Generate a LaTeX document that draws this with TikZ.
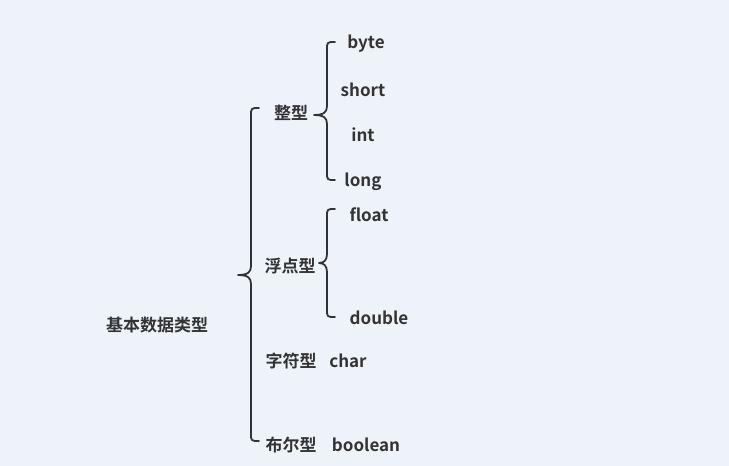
\documentclass[tikz,border=0pt]{standalone}
\usepackage{fontspec}
\setmainfont{Noto Sans CJK SC}[BoldFont=* Bold]
\definecolor{bgc}{RGB}{238,242,249}
\definecolor{ink}{RGB}{51,51,51}
\tikzset{
  lbl/.style={anchor=base, inner sep=0pt, text=ink, font=\fontsize{17}{19}\selectfont\bfseries},
  brc/.style={draw=ink, line width=1.8pt, line cap=round, line join=round}
}
\newcommand{\mybrace}[5]{% x, top, bottom, mid, tip
  \draw[brc] (#1+8,#2) .. controls (#1,#2) .. (#1,#2+8) -- (#1,#4-9)
    .. controls (#1,#4-3) and (#1-3,#4) .. (#5,#4)
    .. controls (#1-3,#4) and (#1,#4+3) .. (#1,#4+9) -- (#1,#3-8)
    .. controls (#1,#3) .. (#1+8,#3);}
\begin{document}
\begin{tikzpicture}[x=1pt,y=-1pt]
\fill[bgc] (0,0) rectangle (729,466);
\useasboundingbox (0,0) rectangle (729,466);
\node[lbl] (root) at (157,331) {基本数据类型};
\node[lbl] (zx) at (291,119) {整型};
\node[lbl] (fd) at (290,272) {浮点型};
\node[lbl] (zf) at (291,367) {字符型};
\node[lbl] (be) at (291,451) {布尔型};
\node[lbl] (byte) at (366,48) {byte};
\node[lbl] (short) at (363,96) {short};
\node[lbl] (int) at (363,141) {int};
\node[lbl] (long) at (363,186) {long};
\node[lbl] (float) at (369,221) {float};
\node[lbl] (double) at (379,324) {double};
\node[lbl] (char) at (348,367) {char};
\node[lbl] (boolean) at (366,451) {boolean};
\mybrace{251}{108}{441}{275}{238}
\mybrace{327}{42}{180}{115}{314}
\mybrace{327}{209}{317}{263}{319}
\end{tikzpicture}
\end{document}
